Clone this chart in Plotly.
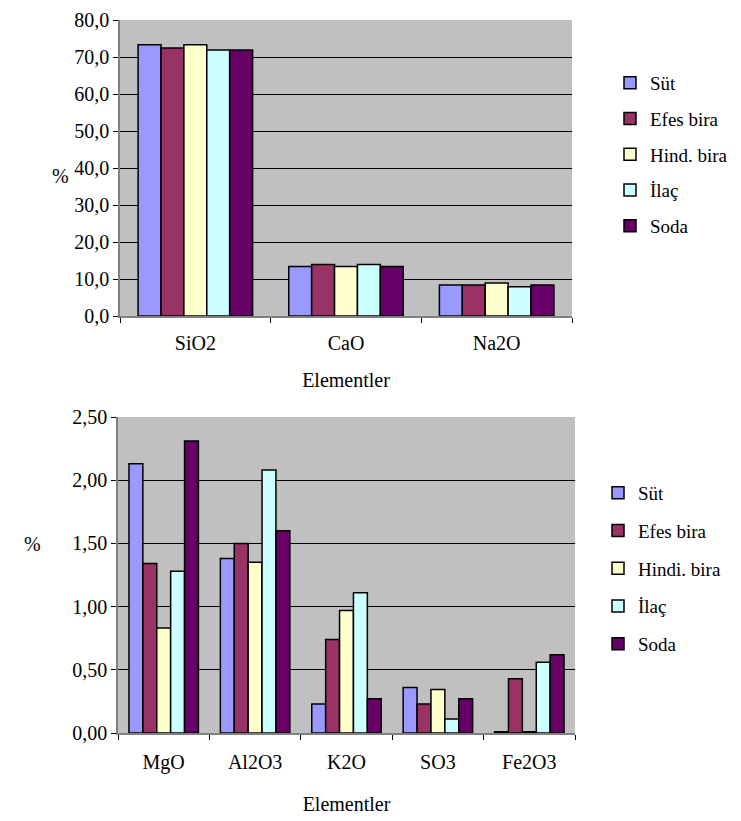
import plotly.graph_objects as go

# ---- data ----
series_top = ["Süt", "Efes bira", "Hind. bira", "İlaç", "Soda"]
series_bottom = ["Süt", "Efes bira", "Hindi. bira", "İlaç", "Soda"]
colors = ["#9999FF", "#993366", "#FFFFCC", "#CCFFFF", "#660066"]

top_categories = ["SiO2", "CaO", "Na2O"]
top_sut = [73.3, 13.4, 8.4]
top_efes = [72.4, 13.9, 8.4]
top_hind = [73.3, 13.4, 8.9]
top_ilac = [71.9, 13.9, 7.9]
top_soda = [71.9, 13.4, 8.4]

bottom_categories = ["MgO", "Al2O3", "K2O", "SO3", "Fe2O3"]
bottom_sut = [2.13, 1.38, 0.23, 0.36, 0.01]
bottom_efes = [1.34, 1.50, 0.74, 0.23, 0.43]
bottom_hind = [0.83, 1.35, 0.97, 0.345, 0.01]
bottom_ilac = [1.28, 2.08, 1.11, 0.11, 0.56]
bottom_soda = [2.31, 1.60, 0.27, 0.27, 0.62]

top_values = [top_sut, top_efes, top_hind, top_ilac, top_soda]
bottom_values = [bottom_sut, bottom_efes, bottom_hind, bottom_ilac, bottom_soda]

FONT = "Liberation Serif, Times New Roman, serif"
OFF = 8  # page body margin
W, H = 741 - OFF, 821 - OFF

fig = go.Figure()
for i in range(5):
    fig.add_trace(go.Bar(
        x=top_categories, y=top_values[i], name=series_top[i],
        marker=dict(color=colors[i], line=dict(color="black", width=1.5)),
        xaxis="x", yaxis="y", legend="legend", legendgroup="t%d" % i,
    ))
for i in range(5):
    fig.add_trace(go.Bar(
        x=bottom_categories, y=bottom_values[i], name=series_bottom[i],
        marker=dict(color=colors[i], line=dict(color="black", width=1.5)),
        xaxis="x2", yaxis="y2", legend="legend2", legendgroup="b%d" % i,
    ))

def px_x(p):
    return (p - OFF) / W

def px_y(p):
    return 1 - (p - OFF) / H

axis_common = dict(
    showline=True, linecolor="#808080", linewidth=1.5,
    ticks="outside", ticklen=5, tickcolor="black",
    tickfont=dict(family=FONT, size=20, color="black"),
    zeroline=False, automargin=False,
)

fig.update_layout(
    width=W, height=H,
    margin=dict(l=0, r=0, t=0, b=0, pad=0, autoexpand=False),
    paper_bgcolor="white",
    plot_bgcolor="#C0C0C0",
    separators=", ",
    barmode="group",
    bargap=0.24,
    bargroupgap=0,
    font=dict(family=FONT, size=20, color="black"),
    xaxis=dict(domain=[px_x(120), px_x(572)], anchor="y", tickson="boundaries",
               showgrid=False, ticklabelstandoff=8,
               title=dict(text="Elementler", font=dict(family=FONT, size=20), standoff=20),
               **axis_common),
    yaxis=dict(domain=[px_y(316), px_y(20)], anchor="x", range=[0, 80], dtick=10,
               tickformat=".1f", showgrid=True, gridcolor="black", gridwidth=1,
               ticklabelstandoff=0,
               **axis_common),
    xaxis2=dict(domain=[px_x(118), px_x(575)], anchor="y2", tickson="boundaries",
                showgrid=False, ticklabelstandoff=10,
                title=dict(text="Elementler", font=dict(family=FONT, size=20), standoff=24),
                **axis_common),
    yaxis2=dict(domain=[px_y(733), px_y(417)], anchor="x2", range=[0, 2.5], dtick=0.5,
                tickformat=".2f", showgrid=True, gridcolor="black", gridwidth=1,
                ticklabelstandoff=0,
                **axis_common),
    legend=dict(x=px_x(610), y=px_y(64), xanchor="left", yanchor="top",
                font=dict(family=FONT, size=19, color="black"),
                tracegroupgap=8, bgcolor="rgba(0,0,0,0)", itemwidth=30),
    legend2=dict(x=px_x(598), y=px_y(474), xanchor="left", yanchor="top",
                 font=dict(family=FONT, size=19, color="black"),
                 tracegroupgap=10, bgcolor="rgba(0,0,0,0)", itemwidth=30),
    annotations=[
        dict(text="%", x=px_x(50), y=px_y(163), xref="paper", yref="paper",
             showarrow=False, font=dict(family=FONT, size=20, color="black")),
        dict(text="%", x=px_x(22), y=px_y(557), xref="paper", yref="paper",
             showarrow=False, font=dict(family=FONT, size=20, color="black")),
    ],
)

fig.write_html("out.html")
